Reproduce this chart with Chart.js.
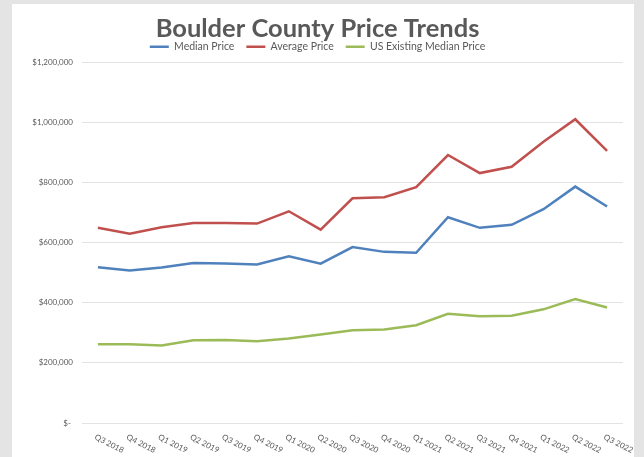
<!DOCTYPE html>
<html>
<head>
<meta charset="utf-8">
<script src="https://cdn.jsdelivr.net/npm/chart.js@4"></script>
<style>
	html, body { margin: 0; padding: 0; }
	body { width: 644px; height: 457px; background: #e4e4e4; position: relative; overflow: hidden; }
	.panel { position: absolute; left: 12px; top: 4px; width: 622px; height: 453px; background: #fff; }
</style>
</head>
<body>
<div class="panel"><canvas id="chart" width="622" height="453"></canvas></div>
<script>
const quarters = ['Q3 2018', 'Q4 2018', 'Q1 2019', 'Q2 2019', 'Q3 2019', 'Q4 2019', 'Q1 2020', 'Q2 2020', 'Q3 2020',
	'Q4 2020', 'Q1 2021', 'Q2 2021', 'Q3 2021', 'Q4 2021', 'Q1 2022', 'Q2 2022', 'Q3 2022'];
const medianPrice = [518000, 507000, 517000, 532000, 530000, 527000, 554000, 530000, 585000,
	569000, 566000, 684000, 649000, 659000, 711000, 786000, 720000];
const averagePrice = [649000, 629000, 651000, 665000, 665000, 663000, 704000, 643000, 747000,
	751000, 784000, 891000, 831000, 852000, 935000, 1010000, 905000];
const usMedianPrice = [262000, 262000, 258000, 275000, 276000, 272000, 281000, 294000, 308000,
	311000, 325000, 363000, 355000, 357000, 378000, 412000, 384000];
const yTickLabels = ['$- ', '$200,000', '$400,000', '$600,000', '$800,000', '$1,000,000', '$1,200,000'];

const FONT = 'Lato';
const TEXT = '#595959';

// x labels lean down to the right, Chart.js can't rotate that way so draw them here
const slantedLabels = {
	id: 'slantedLabels',
	afterDraw(chart){
		const ctx = chart.ctx;
		const xScale = chart.scales.x;
		ctx.save();
		ctx.font = '8px ' + FONT;
		ctx.fillStyle = TEXT;
		ctx.textAlign = 'left';
		ctx.textBaseline = 'top';
		quarters.forEach((q, i)=>{
			ctx.save();
			ctx.translate(xScale.getPixelForValue(i) - 1, chart.chartArea.bottom + 10);
			ctx.rotate(27 * Math.PI / 180);
			ctx.fillText(q, 0, 0);
			ctx.restore();
		});
		ctx.restore();
	}
};

function series(label, data, color){
	return {
		label: label,
		data: data,
		borderColor: color,
		backgroundColor: color,
		borderWidth: 2.5,
		pointRadius: 0,
		tension: 0
	};
}

new Chart(document.getElementById('chart'), {
	type: 'line',
	data: {
		labels: quarters,
		datasets: [
			series('Median Price', medianPrice, '#4F81BD'),
			series('Average Price', averagePrice, '#C0504D'),
			series('US Existing Median Price', usMedianPrice, '#9BBB59')
		]
	},
	options: {
		responsive: false,
		animation: false,
		layout: { padding: { left: 0, right: 11, top: 0, bottom: 34 } },
		plugins: {
			title: {
				display: true,
				text: 'Boulder County Price Trends',
				color: TEXT,
				font: { family: FONT, size: 25.5, weight: 'bold' },
				// legend sits tight under the title
				padding: { top: 9, bottom: -14 }
			},
			legend: {
				labels: {
					usePointStyle: true,
					pointStyle: 'line',
					pointStyleWidth: 19,
					color: TEXT,
					font: { family: FONT, size: 10.5 },
					padding: 12
				}
			},
			tooltip: { enabled: false }
		},
		scales: {
			x: {
				offset: true,
				afterFit(scale){ scale.height = 0; },
				grid: { display: false },
				border: { display: false },
				ticks: { display: false }
			},
			y: {
				min: 0,
				max: 1200000,
				afterFit(scale){ scale.width = 70; },
				grid: { color: '#e3e3e3', drawTicks: false },
				border: { display: false },
				ticks: {
					stepSize: 200000,
					padding: 9,
					color: TEXT,
					font: { family: FONT, size: 8 },
					callback: (v, i)=> yTickLabels[i]
				}
			}
		}
	},
	plugins: [slantedLabels]
});
</script>
</body>
</html>
